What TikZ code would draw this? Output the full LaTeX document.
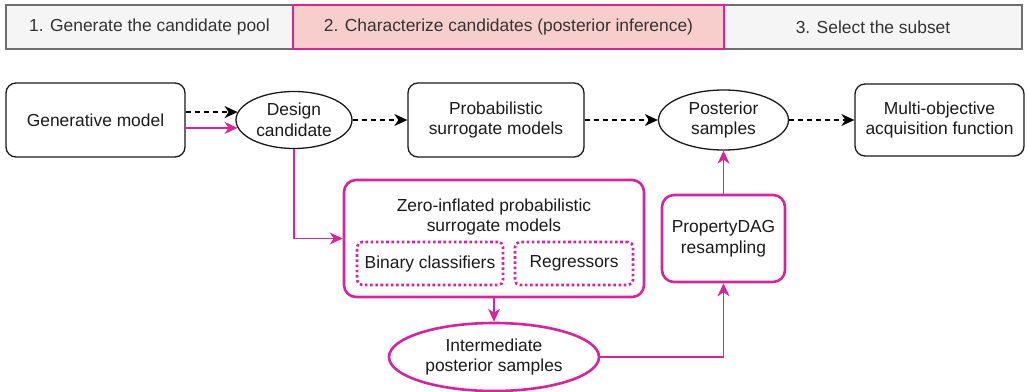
\documentclass[tikz,border=0pt]{standalone}
\usepackage{fontspec}
\setmainfont{Liberation Sans}
\usetikzlibrary{arrows.meta,shapes.geometric}
\definecolor{pinkline}{RGB}{214,36,155}
\definecolor{pinkfill}{RGB}{248,206,204}
\definecolor{greyfill}{RGB}{245,245,245}
\definecolor{greyline}{RGB}{110,110,110}
\definecolor{inkgrey}{RGB}{26,26,26}
\begin{document}
\begin{tikzpicture}[x=1pt,y=-1pt,
    font=\fontsize{17.4}{20.5}\selectfont, text=inkgrey,
    tip/.style={-{Stealth[length=13pt,width=12pt,inset=4pt]}},
    stage/.style={draw=greyline, fill=greyfill, line width=1.2pt, minimum height=44pt, text=black!80},
    plainbox/.style={draw=black!90, line width=1.3pt, rounded corners=10pt, align=center},
    plainoval/.style={draw=black!90, line width=1.3pt, ellipse, inner sep=0pt, align=center},
    pinkbox/.style={draw=pinkline, line width=2.6pt, rounded corners=12pt, align=center},
    pinkoval/.style={draw=pinkline, line width=2.6pt, ellipse, inner sep=0pt, align=center},
    dotbox/.style={draw=pinkline, line width=2.6pt, dash pattern=on 2.6pt off 2.6pt, rounded corners=5pt, minimum height=43pt},
    dashflow/.style={tip, draw=black, line width=1.3pt, dash pattern=on 5pt off 4pt},
    pinkflow/.style={tip, draw=pinkline, line width=1.3pt}]
  \useasboundingbox (0,0) rectangle (1028,391);

  % stages
  \node[stage, minimum width=287pt] (stA) at (149.5,27) {1. Generate the candidate pool};
  \node[stage, minimum width=298pt] (stC) at (873,27) {3. Select the subset};
  \node[stage, minimum width=431pt, fill=pinkfill, draw=pinkline] (stB) at (508.5,27) {2. Characterize candidates (posterior inference)};

  % main row
  \node[plainbox, minimum width=179pt, minimum height=74pt] (gen) at (95.5,120) {Generative model};
  \node[plainoval, minimum width=116pt, minimum height=57pt] (design) at (294,120) {Design\\candidate};
  \node[plainbox, minimum width=176pt, minimum height=74pt] (surr) at (496,120) {Probabilistic\\surrogate models};
  \node[plainoval, minimum width=130pt, minimum height=60pt] (post) at (723.5,120) {Posterior\\samples};
  \node[plainbox, minimum width=169pt, minimum height=72pt] (acq) at (939.5,120) {Multi-objective\\acquisition function};

  % zero-inflated branch
  \node[pinkbox, minimum width=300pt, minimum height=117pt] (zero) at (494,238.5) {};
  \node[align=center] (zerotxt) at (494,217) {Zero-inflated probabilistic\\surrogate models};
  \node[dotbox, minimum width=146pt] (binary) at (430,263.5) {Binary classifiers};
  \node[dotbox, minimum width=118pt] (regr) at (574,263.5) {Regressors};
  \node[pinkoval, minimum width=210pt, minimum height=68pt] (inter) at (494,357) {Intermediate\\posterior samples};
  \node[pinkbox, minimum width=123pt, minimum height=87pt] (dag) at (723.5,238.5) {PropertyDAG\\resampling};

  % connectors
  \draw[dashflow] (gen.east |- design.172) -- (design.172);
  \draw[pinkflow] (gen.east |- design.188) -- (design.188);
  \draw[dashflow] (design) -- (surr);
  \draw[dashflow] (surr) -- (post);
  \draw[dashflow] (post) -- (acq);
  \draw[pinkflow] (design) |- (zero);
  \draw[pinkflow] (zero) -- (inter);
  \draw[pinkflow] (inter) -| (dag);
  \draw[pinkflow] (dag) -- (post);
\end{tikzpicture}
\end{document}
